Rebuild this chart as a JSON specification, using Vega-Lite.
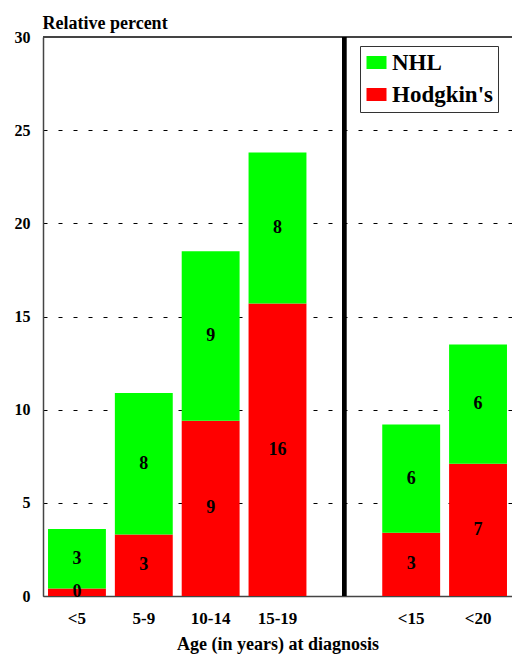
{
  "$schema": "https://vega.github.io/schema/vega-lite/v6.json",
  "width": 469,
  "height": 559,
  "autosize": {"type": "none"},
  "padding": {"left": 43, "top": 37, "right": 0, "bottom": 58},
  "background": "white",
  "config": {
    "font": "Liberation Serif",
    "view": {"stroke": null},
    "axis": {
      "labelFont": "Liberation Serif",
      "labelFontWeight": "bold",
      "titleFontWeight": "bold",
      "labelColor": "black",
      "titleColor": "black",
      "domainColor": "#444",
      "domainWidth": 1.5,
      "ticks": false
    },
    "axisX": {"grid": false}
  },
  "data": {
    "values": [
      {"age": "<5", "series": "Hodgkin's", "value": 0.4},
      {"age": "<5", "series": "NHL", "value": 3.2},
      {"age": "5-9", "series": "Hodgkin's", "value": 3.3},
      {"age": "5-9", "series": "NHL", "value": 7.6},
      {"age": "10-14", "series": "Hodgkin's", "value": 9.4},
      {"age": "10-14", "series": "NHL", "value": 9.1},
      {"age": "15-19", "series": "Hodgkin's", "value": 15.7},
      {"age": "15-19", "series": "NHL", "value": 8.1},
      {"age": "<15", "series": "Hodgkin's", "value": 3.4},
      {"age": "<15", "series": "NHL", "value": 5.8},
      {"age": "<20", "series": "Hodgkin's", "value": 7.1},
      {"age": "<20", "series": "NHL", "value": 6.4}
    ]
  },
  "layer": [
    {
      "mark": {"type": "bar"},
      "encoding": {
        "x": {
          "field": "age",
          "type": "nominal",
          "sort": null,
          "scale": {
            "domain": ["<5", "5-9", "10-14", "15-19", " ", "<15", "<20"],
            "paddingInner": 0.134,
            "paddingOuter": 0.075
          },
          "axis": {
            "title": "Age (in years) at diagnosis",
            "labelAngle": 0,
            "labelFontSize": 17,
            "labelFontWeight": "bold",
            "labelBaseline": "alphabetic",
            "labelPadding": 27,
            "titleFontSize": 18,
            "titleBaseline": "alphabetic",
            "titleY": 53,
            "grid": false
          }
        },
        "y": {
          "field": "value",
          "type": "quantitative",
          "stack": "zero",
          "scale": {"domain": [0, 30], "nice": false},
          "axis": {
            "title": "Relative percent",
            "titleAngle": 0,
            "titleAlign": "left",
            "titleBaseline": "alphabetic",
            "titleX": -1,
            "titleY": -9,
            "titleFontSize": 18,
            "labelFontSize": 16,
            "labelFontWeight": "bold",
            "labelPadding": 13,
            "values": [0, 5, 10, 15, 20, 25, 30],
            "grid": true,
            "gridColor": "black",
            "gridDash": [4, 11],
            "gridWidth": 1,
            "gridOpacity": 1
          }
        },
        "color": {
          "field": "series",
          "type": "nominal",
          "scale": {"domain": ["NHL", "Hodgkin's"], "range": ["#00ff00", "#ff0000"]},
          "legend": {
            "title": null,
            "orient": "none",
            "legendX": 317,
            "legendY": 9,
            "strokeColor": "#333",
            "fillColor": "white",
            "padding": 5,
            "symbolType": "M-1,-0.65H1V0.65H-1Z",
            "symbolSize": 400,
            "symbolStrokeWidth": 0,
            "symbolOpacity": 1,
            "labelFontSize": 23,
            "labelFontWeight": "bold",
            "labelColor": "black",
            "labelOffset": 4,
            "rowPadding": 8
          }
        },
        "order": {"field": "series", "sort": "ascending"}
      }
    },
    {
      "mark": {"type": "rule", "color": "#444", "strokeWidth": 1.5},
      "encoding": {"y": {"datum": 30, "type": "quantitative"}}
    },
    {
      "mark": {"type": "rule", "color": "black", "strokeWidth": 3.5},
      "encoding": {"x": {"datum": " ", "type": "nominal"}}
    },
    {
      "transform": [
        {"stack": "value", "groupby": ["age"], "sort": [{"field": "series", "order": "ascending"}], "as": ["v0", "v1"]},
        {"calculate": "(datum.v0 + datum.v1) / 2", "as": "mid"}
      ],
      "mark": {"type": "text", "fontWeight": "bold", "fontSize": 18, "color": "black", "baseline": "middle"},
      "encoding": {
        "x": {"field": "age", "type": "nominal", "sort": null},
        "y": {"field": "mid", "type": "quantitative"},
        "text": {"field": "value", "type": "quantitative", "format": ".0f"}
      }
    }
  ]
}
